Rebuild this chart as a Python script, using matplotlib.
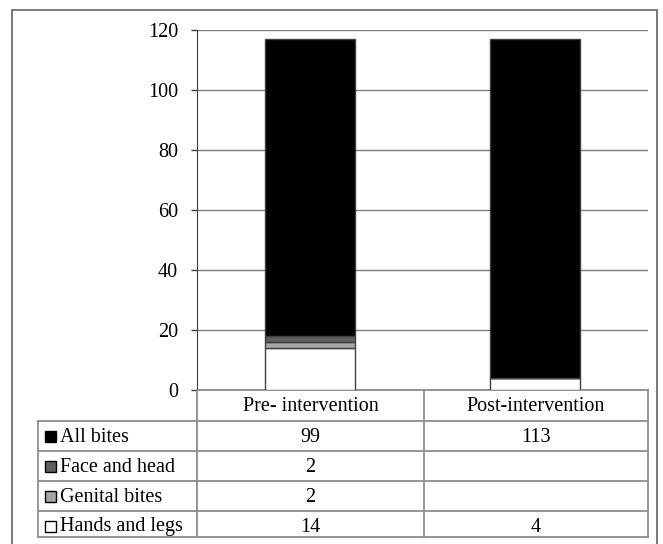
import matplotlib.pyplot as plt
from matplotlib.patches import Rectangle

plt.rcParams['font.family'] = ['Liberation Serif', 'DejaVu Serif']

periods = ["Pre- intervention", "Post-intervention"]
# stacked from bottom to top
series = ["Hands and legs", "Genital bites", "Face and head", "All bites"]
values = {
    "Hands and legs": [14, 4],
    "Genital bites": [2, None],
    "Face and head": [2, None],
    "All bites": [99, 113],
}
colors = {
    "Hands and legs": "#ffffff",
    "Genital bites": "#a6a6a6",
    "Face and head": "#5f5f5f",
    "All bites": "#000000",
}
yticks = [0, 20, 40, 60, 80, 100, 120]

W, H = 663, 544
FS = 14.5
fig = plt.figure(figsize=(W / 100, H / 100), dpi=100)

def px(x0, y0, x1, y1):
    # pixel box (top-left origin) -> figure fraction rect
    return [x0 / W, 1 - y1 / H, (x1 - x0) / W, (y1 - y0) / H]

# outer frame (open at the bottom edge)
fig.add_artist(Rectangle((12 / W, -0.05), (657 - 12) / W, 1.05 - 10 / H, transform=fig.transFigure,
                         fill=False, edgecolor="#6f6f6f", linewidth=1.3))

ax = fig.add_axes(px(197, 30, 648, 390))
bottom = [0, 0]
for s in series:
    v = [x if x is not None else 0 for x in values[s]]
    ax.bar(range(len(periods)), v, bottom=bottom, width=0.4, color=colors[s],
           edgecolor="#404040", linewidth=1.0, zorder=3)
    bottom = [b + x for b, x in zip(bottom, v)]

ax.set_xlim(-0.5, len(periods) - 0.5)
ax.set_ylim(0, 120)
ax.set_yticks(yticks)
ax.set_yticklabels([str(t) for t in yticks], fontsize=FS)
ax.set_xticks([])
ax.yaxis.grid(True, color="#7f7f7f", linewidth=1.0, zorder=0)
ax.tick_params(axis="y", length=4.5, width=1, color="#404040", pad=9)
for side in ["top", "right"]:
    ax.spines[side].set_visible(False)
ax.spines["left"].set_color("#404040")
ax.spines["bottom"].set_color("#8c8c8c")
ax.spines["bottom"].set_linewidth(1.3)

# data table below the chart, in pixel units
tx = fig.add_axes(px(30, 388, 650, 540))
tx.set_xlim(30, 650)
tx.set_ylim(540, 388)
tx.axis("off")
lc = "#8c8c8c"
lw = 1.3
col_edges = [197, 424, 648]
row_edges = [390, 421, 451, 481, 511, 537]
label_x = 38

for i, p in enumerate(periods):
    tx.text((col_edges[i] + col_edges[i + 1]) / 2, (row_edges[0] + row_edges[1]) / 2 + 1, p,
            ha="center", va="center", fontsize=FS)

for x in col_edges:
    tx.plot([x, x], [row_edges[0], row_edges[-1]], color=lc, lw=lw)
tx.plot([label_x, label_x], [row_edges[1], row_edges[-1]], color=lc, lw=lw)
for y in row_edges[1:]:
    tx.plot([label_x, col_edges[-1]], [y, y], color=lc, lw=lw)

for r, s in enumerate(reversed(series)):
    yc = (row_edges[r + 1] + row_edges[r + 2]) / 2 + 1
    if r == len(series) - 1:
        yc += 2
    tx.add_patch(Rectangle((45, yc - 6), 11, 11, facecolor=colors[s], edgecolor="black", lw=1.0))
    tx.text(60, yc, s, ha="left", va="center", fontsize=FS)
    for i, v in enumerate(values[s]):
        if v is not None:
            tx.text((col_edges[i] + col_edges[i + 1]) / 2, yc, str(v),
                    ha="center", va="center", fontsize=FS)

fig.savefig("out.png", dpi=100)
